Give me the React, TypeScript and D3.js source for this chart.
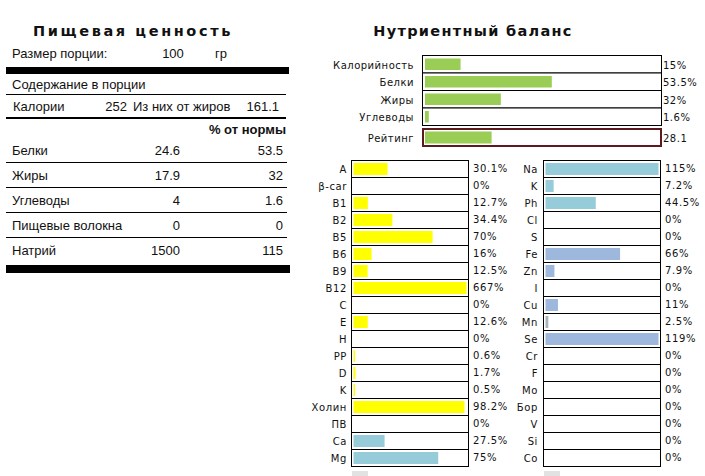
import React from "react";
import * as d3 from "d3";

// ---------- Data ----------
const servingLabel = "Размер порции:";
const servingSize = "100";
const servingUnit = "гр";
const caloriesLabel = "Калории";
const caloriesValue = "252";
const fatCaloriesLabel = "Из них от жиров";
const fatCaloriesValue = "161.1";

const nutrientNames = ["Белки", "Жиры", "Углеводы", "Пищевые волокна", "Натрий"];
const nutrientAmounts = ["24.6", "17.9", "4", "0", "1500"];
const nutrientDaily = ["53.5", "32", "1.6", "0", "115"];

const balanceLabels = ["Калорийность", "Белки", "Жиры", "Углеводы"];
const balanceValues = [15, 53.5, 32, 1.6];
const ratingLabel = "Рейтинг";
const ratingValue = 28.1;

const vitaminLabels = ["A", "β-car", "B1", "B2", "B5", "B6", "B9", "B12", "C", "E", "H", "PP", "D", "K", "Холин", "ПВ", "Ca", "Mg"];
const vitaminValues = [30.1, 0, 12.7, 34.4, 70, 16, 12.5, 667, 0, 12.6, 0, 0.6, 1.7, 0.5, 98.2, 0, 27.5, 75];
const vitaminGroups = ["v", "v", "v", "v", "v", "v", "v", "v", "v", "v", "v", "v", "v", "v", "v", "v", "m1", "m1"];

const mineralLabels = ["Na", "K", "Ph", "Cl", "S", "Fe", "Zn", "I", "Cu", "Mn", "Se", "Cr", "F", "Mo", "Бор", "V", "Si", "Co"];
const mineralValues = [115, 7.2, 44.5, 0, 0, 66, 7.9, 0, 11, 2.5, 119, 0, 0, 0, 0, 0, 0, 0];
const mineralGroups = ["m1", "m1", "m1", "m1", "m1", "m2", "m2", "m2", "m2", "m3", "m2", "m2", "m2", "m2", "m2", "m2", "m2", "m2"];

const groupColor: Record<string, string> = {
  v: "#ffff00",
  m1: "#96cbd9",
  m2: "#9db8dc",
  m3: "#a9b5bb",
};
const green = "#9acd55";

const fmtPct = (v: number) => `${v}%`;

const sansTable = "'Liberation Sans', Arial, sans-serif";
const sansChart = "'DejaVu Sans', Verdana, sans-serif";

function SmallChart({
  labels,
  values,
  groups,
  x0,
  labelX,
  valueX,
}: {
  labels: string[];
  values: number[];
  groups: string[];
  x0: number;
  labelX: number;
  valueX: number;
}) {
  const y = d3.scaleBand<string>().domain(labels).range([160, 466]).padding(0);
  const w = d3.scaleLinear().domain([0, 100]).range([0, 113]).clamp(true);
  const boxW = 117;
  return (
    <g>
      {labels.map((l, i) => {
        const top = y(l)!;
        const h = y.bandwidth();
        return (
          <g key={l}>
            <rect x={x0 + 0.5} y={top + 0.5} width={boxW} height={h} fill="#fff" stroke="#000" strokeWidth={1} />
            {values[i] > 0 && (
              <rect x={x0 + 2.5} y={top + 3} width={Math.max(1.5, w(values[i]))} height={h - 5} fill={groupColor[groups[i]]} />
            )}
            <text x={labelX} y={top + 12.5} textAnchor="end" fontSize={10} fontFamily={sansChart} letterSpacing={0.6} fill="#111">
              {l}
            </text>
            <text x={valueX} y={top + 12} fontSize={10} fontFamily={sansChart} letterSpacing={0.6} fill="#111">
              {fmtPct(values[i])}
            </text>
          </g>
        );
      })}
      <rect x={x0 + 1} y={471} width={16} height={5} fill="#e2e2e2" />
    </g>
  );
}

export default function App() {
  // Left table row positions
  const rowY = d3.scaleBand<string>().domain(nutrientNames).range([137.5, 262.5]).padding(0);

  // Top balance chart
  const by = d3.scaleBand<string>().domain(balanceLabels).range([55.5, 125.5]).padding(0);
  const bw = d3.scaleLinear().domain([0, 100]).range([0, 237]).clamp(true);
  const bx0 = 422;
  const bBoxW = 239;

  return (
    <svg width={705} height={476} style={{ position: "absolute", left: 0, top: 0, display: "block", background: "#fff" }}>
      <rect width={705} height={476} fill="#fff" />

      {/* ---------- Left: nutrition facts ---------- */}
      <text x={133} y={36} textAnchor="middle" fontSize={14.5} fontWeight={900} fontFamily={sansChart} letterSpacing={2.6} fill="#111">
        Пищевая ценность
      </text>
      <text x={12} y={58} fontSize={13} fontFamily={sansTable} fill="#111">{servingLabel}</text>
      <text x={173} y={58} textAnchor="middle" fontSize={13} fontFamily={sansTable} fill="#111">{servingSize}</text>
      <text x={215} y={58} fontSize={13} fontFamily={sansTable} fill="#111">{servingUnit}</text>
      <rect x={6} y={67} width={283} height={7} fill="#000" />
      <text x={12} y={89} fontSize={13} fontFamily={sansTable} fill="#111">Содержание в порции</text>
      <line x1={6} x2={286} y1={94.5} y2={94.5} stroke="#000" strokeWidth={1} />
      <text x={13} y={111} fontSize={13} fontFamily={sansTable} fill="#111">{caloriesLabel}</text>
      <text x={127} y={111} textAnchor="end" fontSize={13} fontFamily={sansTable} fill="#111">{caloriesValue}</text>
      <text x={133} y={111} fontSize={13} fontFamily={sansTable} fill="#111">{fatCaloriesLabel}</text>
      <text x={279} y={111} textAnchor="end" fontSize={13} fontFamily={sansTable} fill="#111">{fatCaloriesValue}</text>
      <line x1={6} x2={286} y1={118} y2={118} stroke="#000" strokeWidth={2} />
      <text x={286} y={134} textAnchor="end" fontSize={13} fontWeight={700} fontFamily={sansTable} fill="#111">% от нормы</text>
      {nutrientNames.map((n, i) => {
        const top = rowY(n)!;
        const h = rowY.bandwidth();
        return (
          <g key={n}>
            <text x={12} y={top + h - 7.5} fontSize={13} fontFamily={sansTable} fill="#111">{n}</text>
            <text x={180} y={top + h - 7.5} textAnchor="end" fontSize={13} fontFamily={sansTable} fill="#111">{nutrientAmounts[i]}</text>
            <text x={283} y={top + h - 7.5} textAnchor="end" fontSize={13} fontFamily={sansTable} fill="#111">{nutrientDaily[i]}</text>
            {i < nutrientNames.length - 1 && (
              <line x1={6} x2={287} y1={top + h} y2={top + h} stroke="#000" strokeWidth={1} />
            )}
          </g>
        );
      })}
      <rect x={6} y={265} width={284} height={8} fill="#000" />

      {/* ---------- Right: nutrient balance ---------- */}
      <text x={473} y={36} textAnchor="middle" fontSize={14.5} fontWeight={900} fontFamily={sansChart} letterSpacing={1.3} fill="#111">
        Нутриентный баланс
      </text>
      {balanceLabels.map((l, i) => {
        const top = by(l)!;
        const h = by.bandwidth();
        return (
          <g key={l}>
            <rect x={bx0 + 0.5} y={top} width={bBoxW} height={h} fill="#fff" stroke="#000" strokeWidth={1} />
            <rect x={bx0 + 3} y={top + 3} width={Math.max(2, bw(balanceValues[i]))} height={h - 6} fill={green} />
            <text x={414} y={top + 13} textAnchor="end" fontSize={10} fontFamily={sansChart} letterSpacing={0.5} fill="#111">{l}</text>
            <text x={663} y={top + 13} fontSize={10} fontFamily={sansChart} letterSpacing={0.5} fill="#111">{fmtPct(balanceValues[i])}</text>
          </g>
        );
      })}
      <rect x={bx0 + 1} y={129} width={bBoxW - 1} height={17} fill="#fff" stroke="#5c1a1e" strokeWidth={2} />
      <rect x={bx0 + 3} y={131.5} width={bw(ratingValue)} height={12} fill={green} />
      <text x={414} y={142} textAnchor="end" fontSize={10} fontFamily={sansChart} letterSpacing={0.5} fill="#111">{ratingLabel}</text>
      <text x={663} y={142} fontSize={10} fontFamily={sansChart} letterSpacing={0.5} fill="#111">{String(ratingValue)}</text>

      <SmallChart labels={vitaminLabels} values={vitaminValues} groups={vitaminGroups} x0={351} labelX={347} valueX={473} />
      <SmallChart labels={mineralLabels} values={mineralValues} groups={mineralGroups} x0={543} labelX={538} valueX={665} />
    </svg>
  );
}
